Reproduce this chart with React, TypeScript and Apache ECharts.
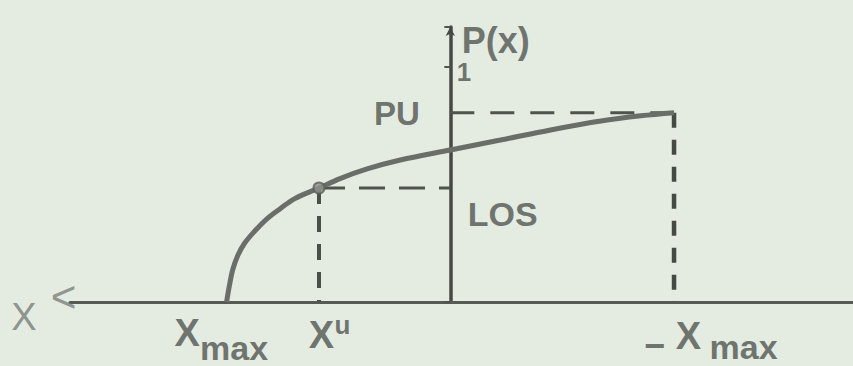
import React, { useEffect, useRef } from "react";
import * as echarts from "echarts";

// Probability curve P(x) against the inverted X axis (X grows to the left).
const CURVE_X = [1.0, 0.987, 0.973, 0.951, 0.919, 0.874, 0.821, 0.762, 0.695, 0.587, 0.493, 0.372, 0.224, 0, -0.224, -0.448, -0.673, -0.852, -1.0];
const CURVE_P = [0, 0.072, 0.136, 0.196, 0.251, 0.302, 0.353, 0.396, 0.44, 0.485, 0.525, 0.566, 0.604, 0.647, 0.689, 0.732, 0.77, 0.792, 0.805];

// Reference levels
const X_MAX = 1;
const X_U = 0.587;
const LOS = 0.485;
const PU = 0.805;
const P_ONE = 1;

// Axis extents
const X_LEFT_END = 1.7;
const X_RIGHT_END = -1.8;
const Y_TOP = 1.17;

// Texts
const AXIS_TITLES = ["P(x)", "X", "<"];
const LEVEL_TEXTS = ["1", "PU", "LOS"];
const TICK_TEXTS = ["X", "max", "X", "u", "\u2212", "X", "max"];

const INK = "#4f544f";
const FONT = "'Liberation Sans', Arial, sans-serif";

type Ann = {
  at: [number, number];
  text: string;
  dx: number;
  dy: number;
  align: "left" | "center" | "right";
  size: number;
  color?: string;
  weight?: string;
  spacing?: number;
};

const ANNOTATIONS: Ann[] = [
  { at: [0, Y_TOP], text: AXIS_TITLES[0], dx: 12, dy: 14, align: "left", size: 36 },
  { at: [X_LEFT_END, 0], text: AXIS_TITLES[1], dx: -33, dy: 15, align: "right", size: 38, color: "#777c77", weight: "normal" },
  { at: [X_LEFT_END, 0], text: AXIS_TITLES[2], dx: 7, dy: -5, align: "right", size: 44, color: "#7a7f7a", weight: "normal" },
  { at: [0, P_ONE], text: LEVEL_TEXTS[0], dx: 7, dy: 6, align: "left", size: 26 },
  { at: [0, PU], text: LEVEL_TEXTS[1], dx: -30, dy: 1, align: "right", size: 33 },
  { at: [0, LOS], text: LEVEL_TEXTS[2], dx: 18, dy: 26, align: "left", size: 34 },
  { at: [X_MAX, 0], text: TICK_TEXTS[0], dx: -39, dy: 31, align: "center", size: 38 },
  { at: [X_MAX, 0], text: TICK_TEXTS[1], dx: 8, dy: 46, align: "center", size: 34 },
  { at: [X_U, 0], text: TICK_TEXTS[2], dx: 3, dy: 33, align: "center", size: 38 },
  { at: [X_U, 0], text: TICK_TEXTS[3], dx: 24, dy: 23, align: "center", size: 26 },
  { at: [-X_MAX, 0], text: TICK_TEXTS[4], dx: -19, dy: 44, align: "center", size: 36 },
  { at: [-X_MAX, 0], text: TICK_TEXTS[5], dx: 15, dy: 34, align: "center", size: 38 },
  { at: [-X_MAX, 0], text: TICK_TEXTS[6], dx: 70, dy: 45, align: "center", size: 34, spacing: 4 },
];

export default function App() {
  const ref = useRef<HTMLDivElement>(null);

  useEffect(() => {
    if (!ref.current) return;
    const chart = echarts.init(ref.current, null, { renderer: "svg" });

    const dashed = (pts: number[][], dash: number[], width: number, color = INK) => ({
      type: "line",
      data: pts,
      symbol: "none",
      silent: true,
      clip: false,
      lineStyle: { color, width, type: dash, cap: "butt" },
      z: 3,
    });

    chart.setOption({
      animation: false,
      backgroundColor: "#e4ebe1",
      grid: { left: 70, right: 0, top: 27, bottom: 64, containLabel: false, outerBoundsMode: "none" },
      xAxis: {
        type: "value",
        inverse: true,
        min: X_RIGHT_END,
        max: X_LEFT_END,
        axisLine: { onZero: true, lineStyle: { color: "#565b56", width: 3 } },
        axisTick: { show: false },
        axisLabel: { show: false },
        splitLine: { show: false },
      },
      yAxis: {
        type: "value",
        min: 0,
        max: Y_TOP,
        interval: 1,
        axisLine: {
          onZero: true,
          lineStyle: { color: "#444944", width: 3.5 },
          symbol: ["none", "arrow"],
          symbolSize: [7, 9],
        },
        axisTick: { show: true, length: 6, lineStyle: { color: INK, width: 2 } },
        axisLabel: { show: false },
        splitLine: { show: false },
      },
      series: [
        {
          type: "line",
          data: CURVE_X.map((x, i) => [x, CURVE_P[i]]),
          smooth: 0.35,
          symbol: "none",
          silent: true,
          clip: false,
          lineStyle: { color: "#696e69", width: 5 },
          z: 4,
        },
        dashed([[0, PU], [-X_MAX, PU]], [24, 16], 3),
        dashed([[-X_MAX, PU], [-X_MAX, 0]], [15, 12], 4.5, "#454a45"),
        dashed([[X_U, LOS], [X_U, 0]], [16, 12], 4, "#4a4f4a"),
        dashed([[X_U, LOS], [0, LOS]], [26, 14], 3),
        {
          type: "scatter",
          data: [[X_U, LOS]],
          symbol: "circle",
          symbolSize: 11,
          silent: true,
          itemStyle: { color: "#8c918c", borderColor: "#5a5f5a", borderWidth: 2 },
          z: 5,
        },
        {
          type: "scatter",
          silent: true,
          symbol: "circle",
          symbolSize: 1,
          itemStyle: { color: "transparent" },
          z: 6,
          data: ANNOTATIONS.map((a) => ({
            value: a.at,
            label: {
              show: true,
              position: [a.dx, a.dy],
              align: a.align,
              verticalAlign: "middle",
              formatter: a.text,
              fontFamily: FONT,
              fontSize: a.size,
              lineHeight: Math.round(a.size * 0.8),
              fontWeight: a.weight ?? "bold",
              color: a.color ?? INK,
              ...(a.spacing ? { letterSpacing: a.spacing } : {}),
            },
          })),
        },
      ],
    });

    return () => chart.dispose();
  }, []);

  return (
    <div
      ref={ref}
      style={{ position: "absolute", left: 0, top: 0, width: 853, height: 366 }}
    />
  );
}
